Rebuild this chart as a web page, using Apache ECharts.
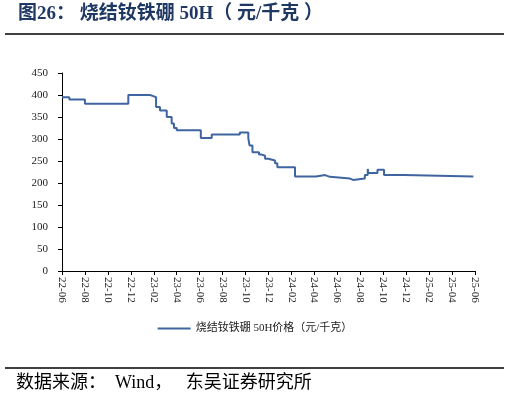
<!DOCTYPE html>
<html lang="zh">
<head>
<meta charset="UTF-8">
<title>烧结钕铁硼50H</title>
<style>
  * { margin: 0; padding: 0; }
  body { background: #fff; }
  #main { width: 510px; height: 402px; }
</style>
</head>
<body>
<div id="main"></div>
<script src="https://cdn.jsdelivr.net/npm/echarts@6/dist/echarts.min.js"></script>
<script>
// x 轴刻度标签（每两个月一个）
const xLabels = ['22-06', '22-08', '22-10', '22-12', '23-02', '23-04', '23-06', '23-08', '23-10',
  '23-12', '24-02', '24-04', '24-06', '24-08', '24-10', '24-12', '25-02', '25-04', '25-06'];
// 价格变动时点（从 22-06 起算的月份序号）
const months = [0, 0.64, 2.0, 5.78, 7.67, 7.9, 8.2, 8.54, 9.13, 9.56, 9.76, 10.0, 12.1, 13.05,
  15.5, 16.24, 16.35, 16.6, 17.17, 17.35, 17.7, 17.99, 18.57, 18.77, 20.31, 22.14,
  22.93, 23.36, 25.1, 25.37, 26.4, 26.65, 26.7, 27.5, 28.07, 29.8];
// 对应新价格（元/千克）
const prices = [395, 390, 380, 400, 398, 395, 373, 365, 350, 335, 325, 320, 302, 310,
  315, 302, 285, 270, 265, 262, 255, 251, 245, 236, 215, 218,
  214, 210, 207, 210, 218, 232, 223, 230, 218, 215];
const lastMonth = 35.86;
const seriesName = '烧结钕铁硼 50H价格（元/千克）';

// 阶梯线：每次变价处先保持旧价，再跳到新价
const stepData = [];
months.forEach((m, i) => {
  if (i > 0) stepData.push([m, prices[i - 1]]);
  stepData.push([m, prices[i]]);
});
stepData.push([lastMonth, prices[prices.length - 1]]);

const chart = echarts.init(document.getElementById('main'));
const serif = '"Liberation Serif", "Noto Sans CJK SC", serif';

chart.setOption({
  backgroundColor: '#fff',
  animation: false,
  grid: { left: 62, right: 35, top: 73, bottom: 131 },
  legend: {
    bottom: 63,
    left: 'center',
    itemWidth: 33,
    itemHeight: 2,
    itemGap: 6,
    icon: 'rect',
    textStyle: { fontSize: 11, color: '#222', fontFamily: serif },
    data: [seriesName]
  },
  xAxis: {
    type: 'value',
    min: 0,
    max: 36,
    interval: 2,
    axisLine: { lineStyle: { color: '#000' } },
    axisTick: { inside: false, length: 4, lineStyle: { color: '#000' } },
    splitLine: { show: false },
    axisLabel: {
      rotate: -90,
      fontSize: 11,
      color: '#222',
      fontFamily: serif,
      margin: 6,
      formatter: v => xLabels[Math.round(v / 2)] || ''
    }
  },
  yAxis: {
    type: 'value',
    min: 0,
    max: 450,
    interval: 50,
    axisLine: { show: true, lineStyle: { color: '#000' } },
    axisTick: { show: true, length: 4, lineStyle: { color: '#000' } },
    splitLine: { show: false },
    axisLabel: { fontSize: 11, color: '#222', fontFamily: serif, margin: 14 }
  },
  series: [{
    name: seriesName,
    type: 'line',
    showSymbol: false,
    sampling: null,
    lineStyle: { color: '#3f65a0', width: 2 },
    itemStyle: { color: '#3f65a0' },
    data: stepData
  }],
  graphic: [
    {
      type: 'text', left: 18, top: 5,
      style: {
        text: '图26： 烧结钕铁硼 50H（ 元/千克 ）',
        font: 'bold 19px "Liberation Serif", "Noto Sans CJK SC", serif',
        fill: '#1f3864'
      }
    },
    { type: 'line', shape: { x1: 5, y1: 34, x2: 504, y2: 34 }, style: { stroke: '#000', lineWidth: 1.5 } },
    { type: 'line', shape: { x1: 5, y1: 368, x2: 504, y2: 368 }, style: { stroke: '#000', lineWidth: 1.5 } },
    {
      type: 'text', left: 16, top: 374,
      style: {
        text: '数据来源：  Wind，   东吴证券研究所',
        font: '18px "Liberation Serif", "Noto Sans CJK SC", serif',
        fill: '#000'
      }
    }
  ]
});
</script>
</body>
</html>
